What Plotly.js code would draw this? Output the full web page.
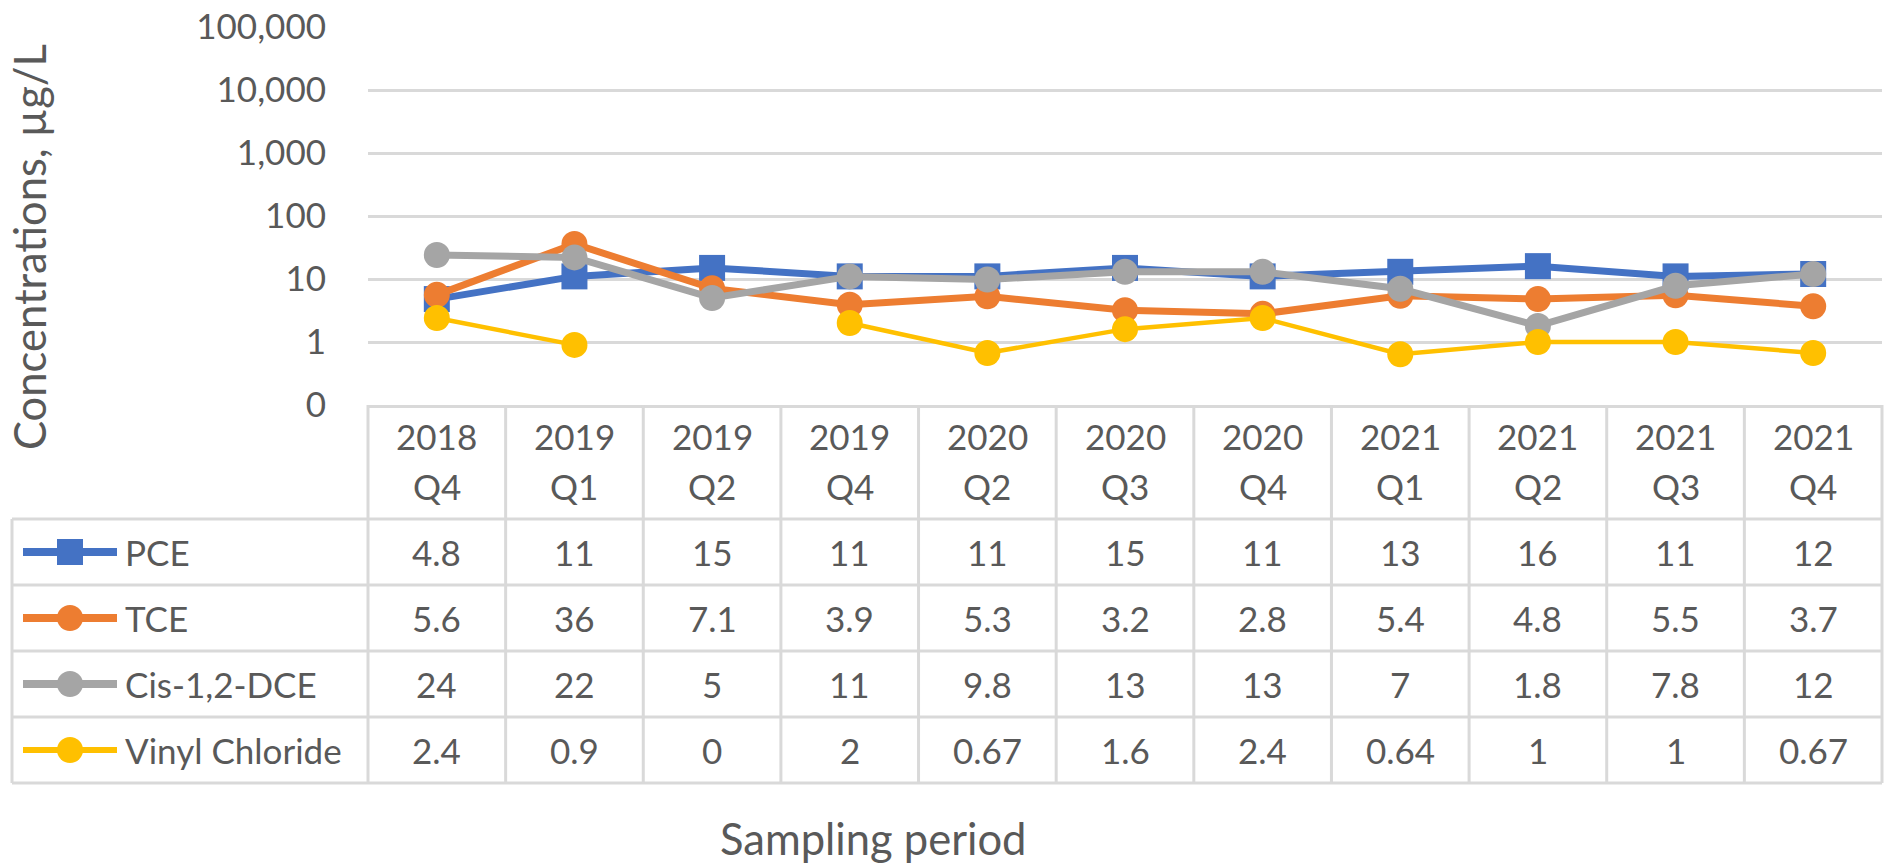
<!DOCTYPE html>
<html>
<head>
<meta charset="utf-8">
<script src="https://cdn.plot.ly/plotly-3.0.1.min.js"></script>
<style>html,body{margin:0;padding:0;background:#fff;}#chart{width:1892px;height:865px;}</style>
</head>
<body>
<div id="chart"></div>
<script>
// ---- data ----
const periods = ['2018 Q4','2019 Q1','2019 Q2','2019 Q4','2020 Q2','2020 Q3','2020 Q4','2021 Q1','2021 Q2','2021 Q3','2021 Q4'];
const seriesNames = ['PCE','TCE','Cis-1,2-DCE','Vinyl Chloride'];
const pce = [4.8, 11, 15, 11, 11, 15, 11, 13, 16, 11, 12];
const tce = [5.6, 36, 7.1, 3.9, 5.3, 3.2, 2.8, 5.4, 4.8, 5.5, 3.7];
const dce = [24, 22, 5, 11, 9.8, 13, 13, 7, 1.8, 7.8, 12];
const vc  = [2.4, 0.9, 0, 2, 0.67, 1.6, 2.4, 0.64, 1, 1, 0.67];
const yTickVals = [0.1, 1, 10, 100, 1000, 10000, 100000];
const yTickText = ['0', '1', '10', '100', '1,000', '10,000', '100,000'];
const yTitle = 'Concentrations, µg/L';
const xTitle = 'Sampling period';

// ---- styles ----
const FONT = 'Lato, "Open Sans", sans-serif';
const TXT = '#595959';
const GRID = '#d9d9d9';
const styles = [
  {color: '#4472C4', width: 7, symbol: 'square', lw: 8},
  {color: '#ED7D31', width: 7, symbol: 'circle', lw: 8},
  {color: '#A5A5A5', width: 7, symbol: 'circle', lw: 8},
  {color: '#FFC000', width: 4.5, symbol: 'circle', lw: 6}
];
const allSeries = [pce, tce, dce, vc];

const W = 1892, H = 865;
const M = {l: 368, r: 10, t: 27, b: 460};
const plotW = W - M.l - M.r, plotH = H - M.t - M.b;
const plotBottom = H - M.b;
const py = p => (plotBottom - p) / plotH;      // pixel y -> paper y
const px = p => (p - M.l) / plotW;             // pixel x -> paper x

const traces = allSeries.map((vals, k) => ({
  type: 'scatter',
  mode: 'lines+markers',
  name: seriesNames[k],
  x: periods,
  y: vals.map(v => v > 0 ? v : null),
  connectgaps: false,
  cliponaxis: false,
  line: {color: styles[k].color, width: styles[k].width},
  marker: {color: styles[k].color, size: 26, symbol: styles[k].symbol, line: {width: 0}},
  hoverinfo: 'x+y+name'
}));

// table geometry (pixel rows)
const rowEdges = [519, 585, 651, 717, 783];
const tableLeft = 12;
const headerYear = 436, headerQ = 486;

const shapes = [];
const lineStyle = {color: GRID, width: 3};
rowEdges.forEach(e => shapes.push({type: 'line', xref: 'paper', yref: 'paper',
  x0: px(tableLeft), x1: 1, y0: py(e), y1: py(e), line: lineStyle}));
shapes.push({type: 'line', xref: 'paper', yref: 'paper', x0: px(tableLeft), x1: px(tableLeft),
  y0: py(rowEdges[0]), y1: py(rowEdges[4]), line: lineStyle});
[0, 1].forEach(xx => shapes.push({type: 'line', xref: 'paper', yref: 'paper', x0: xx, x1: xx,
  y0: 0, y1: py(rowEdges[4]), line: lineStyle}));
for (let i = 1; i < periods.length; i++) {
  shapes.push({type: 'line', xref: 'x', yref: 'paper', x0: i - 0.5, x1: i - 0.5,
    y0: 0, y1: py(rowEdges[4]), line: lineStyle});
}

const annotations = [];
// header labels
periods.forEach(p => {
  const parts = p.split(' ');
  annotations.push({xref: 'x', yref: 'paper', x: p, y: py(headerYear), text: parts[0], showarrow: false,
    xanchor: 'center', yanchor: 'middle', font: {family: FONT, size: 35, color: TXT}});
  annotations.push({xref: 'x', yref: 'paper', x: p, y: py(headerQ), text: parts[1], showarrow: false,
    xanchor: 'center', yanchor: 'middle', font: {family: FONT, size: 35, color: TXT}});
});
// rows
allSeries.forEach((vals, k) => {
  const cy = (rowEdges[k] + rowEdges[k + 1]) / 2;
  vals.forEach((v, i) => annotations.push({xref: 'x', yref: 'paper', x: periods[i], y: py(cy), text: String(v),
    showarrow: false, xanchor: 'center', yanchor: 'middle', font: {family: FONT, size: 35, color: TXT}}));
  // legend key
  shapes.push({type: 'line', xref: 'paper', yref: 'paper', x0: px(23), x1: px(117), y0: py(cy), y1: py(cy),
    line: {color: styles[k].color, width: styles[k].lw}});
  const r = 13;
  shapes.push({type: styles[k].symbol === 'square' ? 'rect' : 'circle', xref: 'paper', yref: 'paper',
    x0: px(70 - r), x1: px(70 + r), y0: py(cy + r), y1: py(cy - r),
    fillcolor: styles[k].color, line: {width: 0}});
  annotations.push({xref: 'paper', yref: 'paper', x: px(123), y: py(cy), text: seriesNames[k], showarrow: false,
    xanchor: 'left', yanchor: 'middle', font: {family: FONT, size: 35, color: TXT}});
});
// axis titles
annotations.push({xref: 'paper', yref: 'paper', x: px(29), y: py(247), text: yTitle, textangle: -90, showarrow: false,
  xanchor: 'center', yanchor: 'middle', font: {family: FONT, size: 43.5, color: TXT}});
annotations.push({xref: 'paper', yref: 'paper', x: px(873), y: py(838), text: xTitle, showarrow: false,
  xanchor: 'center', yanchor: 'middle', font: {family: FONT, size: 43.5, color: TXT}});

const layout = {
  width: W, height: H,
  margin: M,
  paper_bgcolor: '#ffffff', plot_bgcolor: '#ffffff',
  showlegend: false,
  font: {family: FONT, color: TXT},
  xaxis: {type: 'category', range: [-0.5, periods.length - 0.5], showgrid: false, zeroline: false,
    showticklabels: false, ticks: '', showline: true, linecolor: GRID, linewidth: 3, fixedrange: true},
  yaxis: {type: 'log', range: [-1, 5], tickvals: yTickVals, ticktext: yTickText,
    showgrid: true, gridcolor: GRID, gridwidth: 3, zeroline: false, showline: false,
    ticks: 'outside', ticklen: 34, tickcolor: 'rgba(0,0,0,0)',
    tickfont: {family: FONT, size: 35, color: TXT}, fixedrange: true},
  shapes: shapes,
  annotations: annotations
};

Plotly.newPlot('chart', traces, layout, {displayModeBar: false, staticPlot: true});
</script>
</body>
</html>
